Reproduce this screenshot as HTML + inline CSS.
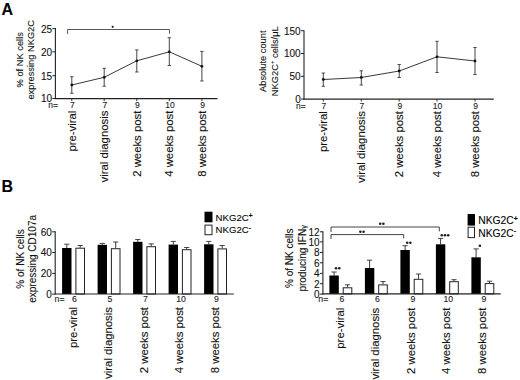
<!DOCTYPE html>
<html><head><meta charset="utf-8"><title>Figure</title>
<style>
html,body{margin:0;padding:0;background:#fff;}
svg{display:block;font-family:'Liberation Sans', Arial, Helvetica, sans-serif;}
text{stroke:#111;stroke-width:0.1px;}
</style></head>
<body>
<svg width="520" height="380" viewBox="0 0 520 380">
<rect x="0" y="0" width="520" height="380" fill="#ffffff"/>
<text x="1.50" y="14.60" font-size="16" text-anchor="start" font-weight="bold" fill="#000">A</text>
<text x="1.60" y="192.40" font-size="16" text-anchor="start" font-weight="bold" fill="#000">B</text>
<line x1="55.40" y1="28.10" x2="55.40" y2="99.10" stroke="#222" stroke-width="1.1"/>
<line x1="54.90" y1="98.60" x2="217.50" y2="98.60" stroke="#222" stroke-width="1.1"/>
<line x1="52.40" y1="28.60" x2="55.40" y2="28.60" stroke="#222" stroke-width="1"/>
<text x="52.10" y="32.50" font-size="10" text-anchor="end" font-weight="normal" fill="#111">25</text>
<line x1="52.40" y1="51.90" x2="55.40" y2="51.90" stroke="#222" stroke-width="1"/>
<text x="52.10" y="55.80" font-size="10" text-anchor="end" font-weight="normal" fill="#111">20</text>
<line x1="52.40" y1="75.70" x2="55.40" y2="75.70" stroke="#222" stroke-width="1"/>
<text x="52.10" y="79.60" font-size="10" text-anchor="end" font-weight="normal" fill="#111">15</text>
<line x1="52.40" y1="98.50" x2="55.40" y2="98.50" stroke="#222" stroke-width="1"/>
<text x="52.10" y="102.40" font-size="10" text-anchor="end" font-weight="normal" fill="#111">10</text>
<polyline points="71.80,85.00 104.20,77.30 136.80,60.80 169.30,51.80 201.90,66.30" fill="none" stroke="#222" stroke-width="0.9"/>
<line x1="71.80" y1="76.70" x2="71.80" y2="93.30" stroke="#222" stroke-width="0.85"/>
<line x1="70.10" y1="76.70" x2="73.50" y2="76.70" stroke="#333" stroke-width="0.85"/>
<line x1="70.10" y1="93.30" x2="73.50" y2="93.30" stroke="#333" stroke-width="0.85"/>
<circle cx="71.80" cy="85.00" r="1.4" fill="#111"/>
<line x1="104.20" y1="68.30" x2="104.20" y2="86.20" stroke="#222" stroke-width="0.85"/>
<line x1="102.50" y1="68.30" x2="105.90" y2="68.30" stroke="#333" stroke-width="0.85"/>
<line x1="102.50" y1="86.20" x2="105.90" y2="86.20" stroke="#333" stroke-width="0.85"/>
<circle cx="104.20" cy="77.30" r="1.4" fill="#111"/>
<line x1="136.80" y1="49.90" x2="136.80" y2="72.00" stroke="#222" stroke-width="0.85"/>
<line x1="135.10" y1="49.90" x2="138.50" y2="49.90" stroke="#333" stroke-width="0.85"/>
<line x1="135.10" y1="72.00" x2="138.50" y2="72.00" stroke="#333" stroke-width="0.85"/>
<circle cx="136.80" cy="60.80" r="1.4" fill="#111"/>
<line x1="169.30" y1="37.70" x2="169.30" y2="65.50" stroke="#222" stroke-width="0.85"/>
<line x1="167.60" y1="37.70" x2="171.00" y2="37.70" stroke="#333" stroke-width="0.85"/>
<line x1="167.60" y1="65.50" x2="171.00" y2="65.50" stroke="#333" stroke-width="0.85"/>
<circle cx="169.30" cy="51.80" r="1.4" fill="#111"/>
<line x1="201.90" y1="51.40" x2="201.90" y2="81.00" stroke="#222" stroke-width="0.85"/>
<line x1="200.20" y1="51.40" x2="203.60" y2="51.40" stroke="#333" stroke-width="0.85"/>
<line x1="200.20" y1="81.00" x2="203.60" y2="81.00" stroke="#333" stroke-width="0.85"/>
<circle cx="201.90" cy="66.30" r="1.4" fill="#111"/>
<line x1="71.80" y1="98.60" x2="71.80" y2="101.10" stroke="#222" stroke-width="0.9"/>
<text x="72.40" y="108.20" font-size="8.5" text-anchor="middle" font-weight="normal" fill="#222">7</text>
<text x="75.70" y="110.60" font-size="11.35" text-anchor="end" font-weight="normal" fill="#111" transform="rotate(-90 75.70 110.60)">pre-viral</text>
<line x1="104.20" y1="98.60" x2="104.20" y2="101.10" stroke="#222" stroke-width="0.9"/>
<text x="104.80" y="108.20" font-size="8.5" text-anchor="middle" font-weight="normal" fill="#222">7</text>
<text x="108.10" y="110.60" font-size="11.35" text-anchor="end" font-weight="normal" fill="#111" transform="rotate(-90 108.10 110.60)">viral diagnosis</text>
<line x1="136.80" y1="98.60" x2="136.80" y2="101.10" stroke="#222" stroke-width="0.9"/>
<text x="137.40" y="108.20" font-size="8.5" text-anchor="middle" font-weight="normal" fill="#222">9</text>
<text x="140.70" y="110.60" font-size="11.35" text-anchor="end" font-weight="normal" fill="#111" transform="rotate(-90 140.70 110.60)">2 weeks post</text>
<line x1="169.30" y1="98.60" x2="169.30" y2="101.10" stroke="#222" stroke-width="0.9"/>
<text x="169.90" y="108.20" font-size="8.5" text-anchor="middle" font-weight="normal" fill="#222">10</text>
<text x="173.20" y="110.60" font-size="11.35" text-anchor="end" font-weight="normal" fill="#111" transform="rotate(-90 173.20 110.60)">4 weeks post</text>
<line x1="201.90" y1="98.60" x2="201.90" y2="101.10" stroke="#222" stroke-width="0.9"/>
<text x="202.50" y="108.20" font-size="8.5" text-anchor="middle" font-weight="normal" fill="#222">9</text>
<text x="205.80" y="110.60" font-size="11.35" text-anchor="end" font-weight="normal" fill="#111" transform="rotate(-90 205.80 110.60)">8 weeks post</text>
<text x="48.20" y="108.20" font-size="8.5" text-anchor="start" font-weight="normal" fill="#222">n=</text>
<text x="23.20" y="59.80" font-size="9.3" text-anchor="middle" font-weight="normal" fill="#111" transform="rotate(-90 23.20 59.80)">% of NK cells</text>
<text x="34.40" y="59.80" font-size="9.3" text-anchor="middle" font-weight="normal" fill="#111" transform="rotate(-90 34.40 59.80)">expressing NKG2C</text>
<polyline points="67.6,34 67.6,29.5 169.5,29.5 169.5,33.6" fill="none" stroke="#444" stroke-width="0.9"/>
<circle cx="112.7" cy="26.8" r="1.1" fill="#222"/>
<line x1="304.00" y1="30.20" x2="304.00" y2="99.60" stroke="#222" stroke-width="1.1"/>
<line x1="303.50" y1="99.10" x2="493.80" y2="99.10" stroke="#222" stroke-width="1.1"/>
<line x1="301.00" y1="30.70" x2="304.00" y2="30.70" stroke="#222" stroke-width="1"/>
<text x="300.70" y="34.60" font-size="10" text-anchor="end" font-weight="normal" fill="#111">150</text>
<line x1="301.00" y1="53.50" x2="304.00" y2="53.50" stroke="#222" stroke-width="1"/>
<text x="300.70" y="57.40" font-size="10" text-anchor="end" font-weight="normal" fill="#111">100</text>
<line x1="301.00" y1="76.30" x2="304.00" y2="76.30" stroke="#222" stroke-width="1"/>
<text x="300.70" y="80.20" font-size="10" text-anchor="end" font-weight="normal" fill="#111">50</text>
<line x1="301.00" y1="99.10" x2="304.00" y2="99.10" stroke="#222" stroke-width="1"/>
<text x="300.70" y="103.00" font-size="10" text-anchor="end" font-weight="normal" fill="#111">0</text>
<polyline points="323.30,79.50 361.30,77.50 399.20,71.00 437.00,56.80 475.00,61.00" fill="none" stroke="#222" stroke-width="0.9"/>
<line x1="323.30" y1="73.00" x2="323.30" y2="86.30" stroke="#222" stroke-width="0.85"/>
<line x1="321.60" y1="73.00" x2="325.00" y2="73.00" stroke="#333" stroke-width="0.85"/>
<line x1="321.60" y1="86.30" x2="325.00" y2="86.30" stroke="#333" stroke-width="0.85"/>
<circle cx="323.30" cy="79.50" r="1.4" fill="#111"/>
<line x1="361.30" y1="70.80" x2="361.30" y2="85.00" stroke="#222" stroke-width="0.85"/>
<line x1="359.60" y1="70.80" x2="363.00" y2="70.80" stroke="#333" stroke-width="0.85"/>
<line x1="359.60" y1="85.00" x2="363.00" y2="85.00" stroke="#333" stroke-width="0.85"/>
<circle cx="361.30" cy="77.50" r="1.4" fill="#111"/>
<line x1="399.20" y1="64.50" x2="399.20" y2="77.50" stroke="#222" stroke-width="0.85"/>
<line x1="397.50" y1="64.50" x2="400.90" y2="64.50" stroke="#333" stroke-width="0.85"/>
<line x1="397.50" y1="77.50" x2="400.90" y2="77.50" stroke="#333" stroke-width="0.85"/>
<circle cx="399.20" cy="71.00" r="1.4" fill="#111"/>
<line x1="437.00" y1="41.30" x2="437.00" y2="72.50" stroke="#222" stroke-width="0.85"/>
<line x1="435.30" y1="41.30" x2="438.70" y2="41.30" stroke="#333" stroke-width="0.85"/>
<line x1="435.30" y1="72.50" x2="438.70" y2="72.50" stroke="#333" stroke-width="0.85"/>
<circle cx="437.00" cy="56.80" r="1.4" fill="#111"/>
<line x1="475.00" y1="47.50" x2="475.00" y2="74.50" stroke="#222" stroke-width="0.85"/>
<line x1="473.30" y1="47.50" x2="476.70" y2="47.50" stroke="#333" stroke-width="0.85"/>
<line x1="473.30" y1="74.50" x2="476.70" y2="74.50" stroke="#333" stroke-width="0.85"/>
<circle cx="475.00" cy="61.00" r="1.4" fill="#111"/>
<line x1="323.30" y1="99.10" x2="323.30" y2="101.60" stroke="#222" stroke-width="0.9"/>
<text x="323.90" y="108.70" font-size="8.5" text-anchor="middle" font-weight="normal" fill="#222">7</text>
<text x="327.20" y="111.10" font-size="11.35" text-anchor="end" font-weight="normal" fill="#111" transform="rotate(-90 327.20 111.10)">pre-viral</text>
<line x1="361.30" y1="99.10" x2="361.30" y2="101.60" stroke="#222" stroke-width="0.9"/>
<text x="361.90" y="108.70" font-size="8.5" text-anchor="middle" font-weight="normal" fill="#222">7</text>
<text x="365.20" y="111.10" font-size="11.35" text-anchor="end" font-weight="normal" fill="#111" transform="rotate(-90 365.20 111.10)">viral diagnosis</text>
<line x1="399.20" y1="99.10" x2="399.20" y2="101.60" stroke="#222" stroke-width="0.9"/>
<text x="399.80" y="108.70" font-size="8.5" text-anchor="middle" font-weight="normal" fill="#222">9</text>
<text x="403.10" y="111.10" font-size="11.35" text-anchor="end" font-weight="normal" fill="#111" transform="rotate(-90 403.10 111.10)">2 weeks post</text>
<line x1="437.00" y1="99.10" x2="437.00" y2="101.60" stroke="#222" stroke-width="0.9"/>
<text x="437.60" y="108.70" font-size="8.5" text-anchor="middle" font-weight="normal" fill="#222">10</text>
<text x="440.90" y="111.10" font-size="11.35" text-anchor="end" font-weight="normal" fill="#111" transform="rotate(-90 440.90 111.10)">4 weeks post</text>
<line x1="475.00" y1="99.10" x2="475.00" y2="101.60" stroke="#222" stroke-width="0.9"/>
<text x="475.60" y="108.70" font-size="8.5" text-anchor="middle" font-weight="normal" fill="#222">9</text>
<text x="478.90" y="111.10" font-size="11.35" text-anchor="end" font-weight="normal" fill="#111" transform="rotate(-90 478.90 111.10)">8 weeks post</text>
<text x="296.00" y="108.70" font-size="8.5" text-anchor="start" font-weight="normal" fill="#222">n=</text>
<text x="266.00" y="61.20" font-size="9.3" text-anchor="middle" font-weight="normal" fill="#111" transform="rotate(-90 266.00 61.20)">Absolute count</text>
<text x="278.20" y="61.20" font-size="9.3" text-anchor="middle" font-weight="normal" fill="#111" transform="rotate(-90 278.20 61.20)">NKG2C<tspan font-size="6" dy="-4.3">+</tspan><tspan dy="4.3"> cells/&#956;L</tspan></text>
<line x1="66.80" y1="244.20" x2="66.80" y2="248.00" stroke="#222" stroke-width="0.9"/>
<line x1="64.20" y1="244.20" x2="69.40" y2="244.20" stroke="#333" stroke-width="0.9"/>
<rect x="62.10" y="248.00" width="9.4" height="46.00" fill="#000"/>
<line x1="80.20" y1="245.50" x2="80.20" y2="247.70" stroke="#222" stroke-width="0.9"/>
<line x1="77.60" y1="245.50" x2="82.80" y2="245.50" stroke="#333" stroke-width="0.9"/>
<rect x="75.90" y="248.20" width="8.6" height="45.80" fill="#fff" stroke="#222" stroke-width="1"/>
<text x="74.50" y="302.00" font-size="8.7" text-anchor="middle" font-weight="normal" fill="#222">6</text>
<text x="76.90" y="307.00" font-size="11.35" text-anchor="end" font-weight="normal" fill="#111" transform="rotate(-90 76.90 307.00)">pre-viral</text>
<line x1="102.30" y1="243.40" x2="102.30" y2="244.80" stroke="#222" stroke-width="0.9"/>
<line x1="99.70" y1="243.40" x2="104.90" y2="243.40" stroke="#333" stroke-width="0.9"/>
<rect x="97.60" y="244.80" width="9.4" height="49.20" fill="#000"/>
<line x1="115.70" y1="242.00" x2="115.70" y2="248.20" stroke="#222" stroke-width="0.9"/>
<line x1="113.10" y1="242.00" x2="118.30" y2="242.00" stroke="#333" stroke-width="0.9"/>
<rect x="111.40" y="248.70" width="8.6" height="45.30" fill="#fff" stroke="#222" stroke-width="1"/>
<text x="110.00" y="302.00" font-size="8.7" text-anchor="middle" font-weight="normal" fill="#222">5</text>
<text x="112.40" y="307.00" font-size="11.35" text-anchor="end" font-weight="normal" fill="#111" transform="rotate(-90 112.40 307.00)">viral diagnosis</text>
<line x1="137.80" y1="239.50" x2="137.80" y2="241.80" stroke="#222" stroke-width="0.9"/>
<line x1="135.20" y1="239.50" x2="140.40" y2="239.50" stroke="#333" stroke-width="0.9"/>
<rect x="133.10" y="241.80" width="9.4" height="52.20" fill="#000"/>
<line x1="151.20" y1="243.90" x2="151.20" y2="246.20" stroke="#222" stroke-width="0.9"/>
<line x1="148.60" y1="243.90" x2="153.80" y2="243.90" stroke="#333" stroke-width="0.9"/>
<rect x="146.90" y="246.70" width="8.6" height="47.30" fill="#fff" stroke="#222" stroke-width="1"/>
<text x="145.50" y="302.00" font-size="8.7" text-anchor="middle" font-weight="normal" fill="#222">7</text>
<text x="147.90" y="307.00" font-size="11.35" text-anchor="end" font-weight="normal" fill="#111" transform="rotate(-90 147.90 307.00)">2 weeks post</text>
<line x1="173.30" y1="241.40" x2="173.30" y2="244.60" stroke="#222" stroke-width="0.9"/>
<line x1="170.70" y1="241.40" x2="175.90" y2="241.40" stroke="#333" stroke-width="0.9"/>
<rect x="168.60" y="244.60" width="9.4" height="49.40" fill="#000"/>
<line x1="186.70" y1="247.50" x2="186.70" y2="249.20" stroke="#222" stroke-width="0.9"/>
<line x1="184.10" y1="247.50" x2="189.30" y2="247.50" stroke="#333" stroke-width="0.9"/>
<rect x="182.40" y="249.70" width="8.6" height="44.30" fill="#fff" stroke="#222" stroke-width="1"/>
<text x="181.00" y="302.00" font-size="8.7" text-anchor="middle" font-weight="normal" fill="#222">10</text>
<text x="183.40" y="307.00" font-size="11.35" text-anchor="end" font-weight="normal" fill="#111" transform="rotate(-90 183.40 307.00)">4 weeks post</text>
<line x1="208.80" y1="241.40" x2="208.80" y2="244.30" stroke="#222" stroke-width="0.9"/>
<line x1="206.20" y1="241.40" x2="211.40" y2="241.40" stroke="#333" stroke-width="0.9"/>
<rect x="204.10" y="244.30" width="9.4" height="49.70" fill="#000"/>
<line x1="222.20" y1="245.50" x2="222.20" y2="248.40" stroke="#222" stroke-width="0.9"/>
<line x1="219.60" y1="245.50" x2="224.80" y2="245.50" stroke="#333" stroke-width="0.9"/>
<rect x="217.90" y="248.90" width="8.6" height="45.10" fill="#fff" stroke="#222" stroke-width="1"/>
<text x="216.50" y="302.00" font-size="8.7" text-anchor="middle" font-weight="normal" fill="#222">9</text>
<text x="218.90" y="307.00" font-size="11.35" text-anchor="end" font-weight="normal" fill="#111" transform="rotate(-90 218.90 307.00)">8 weeks post</text>
<line x1="55.20" y1="231.30" x2="55.20" y2="294.50" stroke="#222" stroke-width="1.1"/>
<line x1="54.70" y1="294.00" x2="233.80" y2="294.00" stroke="#222" stroke-width="1.1"/>
<line x1="52.20" y1="231.80" x2="55.20" y2="231.80" stroke="#222" stroke-width="1"/>
<text x="51.90" y="235.70" font-size="10" text-anchor="end" font-weight="normal" fill="#111">60</text>
<line x1="52.20" y1="252.50" x2="55.20" y2="252.50" stroke="#222" stroke-width="1"/>
<text x="51.90" y="256.40" font-size="10" text-anchor="end" font-weight="normal" fill="#111">40</text>
<line x1="52.20" y1="273.40" x2="55.20" y2="273.40" stroke="#222" stroke-width="1"/>
<text x="51.90" y="277.30" font-size="10" text-anchor="end" font-weight="normal" fill="#111">20</text>
<line x1="52.20" y1="294.10" x2="55.20" y2="294.10" stroke="#222" stroke-width="1"/>
<text x="51.90" y="298.00" font-size="10" text-anchor="end" font-weight="normal" fill="#111">0</text>
<text x="54.60" y="302.00" font-size="8.7" text-anchor="start" font-weight="normal" fill="#222">n=</text>
<text x="23.90" y="258.90" font-size="10" text-anchor="middle" font-weight="normal" fill="#111" transform="rotate(-90 23.90 258.90)">% of NK cells</text>
<text x="36.00" y="258.90" font-size="10" text-anchor="middle" font-weight="normal" fill="#111" transform="rotate(-90 36.00 258.90)">expressing CD107a</text>
<rect x="204.5" y="211.7" width="8" height="10.6" fill="#000"/>
<rect x="205" y="225.1" width="7" height="9.6" fill="#fff" stroke="#222" stroke-width="1"/>
<text x="215.60" y="221.20" font-size="9.6" text-anchor="start" font-weight="normal" fill="#000">NKG2C<tspan font-size="6.5" font-weight="bold" dy="-2.8">+</tspan></text>
<text x="215.60" y="233.10" font-size="9.6" text-anchor="start" font-weight="normal" fill="#000">NKG2C<tspan font-size="6.5" font-weight="bold" dy="-3.6">-</tspan></text>
<line x1="334.10" y1="272.00" x2="334.10" y2="275.50" stroke="#222" stroke-width="0.9"/>
<line x1="331.50" y1="272.00" x2="336.70" y2="272.00" stroke="#333" stroke-width="0.9"/>
<rect x="329.40" y="275.50" width="9.4" height="18.40" fill="#000"/>
<line x1="347.50" y1="284.80" x2="347.50" y2="287.30" stroke="#222" stroke-width="0.9"/>
<line x1="344.90" y1="284.80" x2="350.10" y2="284.80" stroke="#333" stroke-width="0.9"/>
<rect x="343.20" y="287.80" width="8.6" height="6.10" fill="#fff" stroke="#222" stroke-width="1"/>
<text x="341.80" y="301.90" font-size="8.7" text-anchor="middle" font-weight="normal" fill="#222">6</text>
<text x="344.00" y="307.70" font-size="11.35" text-anchor="end" font-weight="normal" fill="#111" transform="rotate(-90 344.00 307.70)">pre-viral</text>
<line x1="369.60" y1="260.20" x2="369.60" y2="268.00" stroke="#222" stroke-width="0.9"/>
<line x1="367.00" y1="260.20" x2="372.20" y2="260.20" stroke="#333" stroke-width="0.9"/>
<rect x="364.90" y="268.00" width="9.4" height="25.90" fill="#000"/>
<line x1="383.00" y1="281.60" x2="383.00" y2="284.40" stroke="#222" stroke-width="0.9"/>
<line x1="380.40" y1="281.60" x2="385.60" y2="281.60" stroke="#333" stroke-width="0.9"/>
<rect x="378.70" y="284.90" width="8.6" height="9.00" fill="#fff" stroke="#222" stroke-width="1"/>
<text x="377.30" y="301.90" font-size="8.7" text-anchor="middle" font-weight="normal" fill="#222">6</text>
<text x="379.50" y="307.70" font-size="11.35" text-anchor="end" font-weight="normal" fill="#111" transform="rotate(-90 379.50 307.70)">viral diagnosis</text>
<line x1="405.10" y1="245.70" x2="405.10" y2="250.00" stroke="#222" stroke-width="0.9"/>
<line x1="402.50" y1="245.70" x2="407.70" y2="245.70" stroke="#333" stroke-width="0.9"/>
<rect x="400.40" y="250.00" width="9.4" height="43.90" fill="#000"/>
<line x1="418.50" y1="274.00" x2="418.50" y2="278.80" stroke="#222" stroke-width="0.9"/>
<line x1="415.90" y1="274.00" x2="421.10" y2="274.00" stroke="#333" stroke-width="0.9"/>
<rect x="414.20" y="279.30" width="8.6" height="14.60" fill="#fff" stroke="#222" stroke-width="1"/>
<text x="412.80" y="301.90" font-size="8.7" text-anchor="middle" font-weight="normal" fill="#222">9</text>
<text x="415.00" y="307.70" font-size="11.35" text-anchor="end" font-weight="normal" fill="#111" transform="rotate(-90 415.00 307.70)">2 weeks post</text>
<line x1="440.60" y1="238.40" x2="440.60" y2="244.30" stroke="#222" stroke-width="0.9"/>
<line x1="438.00" y1="238.40" x2="443.20" y2="238.40" stroke="#333" stroke-width="0.9"/>
<rect x="435.90" y="244.30" width="9.4" height="49.60" fill="#000"/>
<line x1="454.00" y1="279.70" x2="454.00" y2="281.20" stroke="#222" stroke-width="0.9"/>
<line x1="451.40" y1="279.70" x2="456.60" y2="279.70" stroke="#333" stroke-width="0.9"/>
<rect x="449.70" y="281.70" width="8.6" height="12.20" fill="#fff" stroke="#222" stroke-width="1"/>
<text x="448.30" y="301.90" font-size="8.7" text-anchor="middle" font-weight="normal" fill="#222">10</text>
<text x="450.50" y="307.70" font-size="11.35" text-anchor="end" font-weight="normal" fill="#111" transform="rotate(-90 450.50 307.70)">4 weeks post</text>
<line x1="476.10" y1="248.90" x2="476.10" y2="257.30" stroke="#222" stroke-width="0.9"/>
<line x1="473.50" y1="248.90" x2="478.70" y2="248.90" stroke="#333" stroke-width="0.9"/>
<rect x="471.40" y="257.30" width="9.4" height="36.60" fill="#000"/>
<line x1="489.50" y1="281.20" x2="489.50" y2="283.10" stroke="#222" stroke-width="0.9"/>
<line x1="486.90" y1="281.20" x2="492.10" y2="281.20" stroke="#333" stroke-width="0.9"/>
<rect x="485.20" y="283.60" width="8.6" height="10.30" fill="#fff" stroke="#222" stroke-width="1"/>
<text x="483.80" y="301.90" font-size="8.7" text-anchor="middle" font-weight="normal" fill="#222">9</text>
<text x="486.00" y="307.70" font-size="11.35" text-anchor="end" font-weight="normal" fill="#111" transform="rotate(-90 486.00 307.70)">8 weeks post</text>
<line x1="322.90" y1="231.30" x2="322.90" y2="294.40" stroke="#222" stroke-width="1.1"/>
<line x1="322.40" y1="293.90" x2="500.70" y2="293.90" stroke="#222" stroke-width="1.1"/>
<line x1="319.90" y1="231.80" x2="322.90" y2="231.80" stroke="#222" stroke-width="1"/>
<text x="319.60" y="235.70" font-size="10" text-anchor="end" font-weight="normal" fill="#111">12</text>
<line x1="319.90" y1="241.90" x2="322.90" y2="241.90" stroke="#222" stroke-width="1"/>
<text x="319.60" y="245.80" font-size="10" text-anchor="end" font-weight="normal" fill="#111">10</text>
<line x1="319.90" y1="252.50" x2="322.90" y2="252.50" stroke="#222" stroke-width="1"/>
<text x="319.60" y="256.40" font-size="10" text-anchor="end" font-weight="normal" fill="#111">8</text>
<line x1="319.90" y1="262.80" x2="322.90" y2="262.80" stroke="#222" stroke-width="1"/>
<text x="319.60" y="266.70" font-size="10" text-anchor="end" font-weight="normal" fill="#111">6</text>
<line x1="319.90" y1="273.40" x2="322.90" y2="273.40" stroke="#222" stroke-width="1"/>
<text x="319.60" y="277.30" font-size="10" text-anchor="end" font-weight="normal" fill="#111">4</text>
<line x1="319.90" y1="283.70" x2="322.90" y2="283.70" stroke="#222" stroke-width="1"/>
<text x="319.60" y="287.60" font-size="10" text-anchor="end" font-weight="normal" fill="#111">2</text>
<line x1="319.90" y1="294.10" x2="322.90" y2="294.10" stroke="#222" stroke-width="1"/>
<text x="319.60" y="298.00" font-size="10" text-anchor="end" font-weight="normal" fill="#111">0</text>
<text x="318.30" y="301.90" font-size="8.7" text-anchor="start" font-weight="normal" fill="#222">n=</text>
<text x="293.50" y="258.30" font-size="10" text-anchor="middle" font-weight="normal" fill="#111" transform="rotate(-90 293.50 258.30)">% of NK cells</text>
<text x="306.50" y="258.30" font-size="10" text-anchor="middle" font-weight="normal" fill="#111" transform="rotate(-90 306.50 258.30)">producing IFN<tspan font-size="7.6">&#947;</tspan></text>
<polyline points="331,232 331,227 439.3,227 439.3,231.4" fill="none" stroke="#444" stroke-width="1"/>
<polyline points="331,239 331,234.6 403.7,234.6 403.7,238.4" fill="none" stroke="#444" stroke-width="1"/>
<circle cx="380.20" cy="223.80" r="1.3" fill="#222"/>
<circle cx="383.40" cy="223.80" r="1.3" fill="#222"/>
<circle cx="360.40" cy="231.80" r="1.3" fill="#222"/>
<circle cx="363.60" cy="231.80" r="1.3" fill="#222"/>
<circle cx="336.00" cy="268.30" r="1.3" fill="#222"/>
<circle cx="339.20" cy="268.30" r="1.3" fill="#222"/>
<circle cx="407.20" cy="242.80" r="1.3" fill="#222"/>
<circle cx="410.40" cy="242.80" r="1.3" fill="#222"/>
<circle cx="441.80" cy="235.30" r="1.3" fill="#222"/>
<circle cx="445.00" cy="235.30" r="1.3" fill="#222"/>
<circle cx="448.20" cy="235.30" r="1.3" fill="#222"/>
<circle cx="479.90" cy="245.80" r="1.3" fill="#222"/>
<rect x="467.6" y="214" width="7.4" height="11.6" fill="#000"/>
<rect x="468.1" y="227.2" width="6.4" height="10.4" fill="#fff" stroke="#222" stroke-width="1"/>
<text x="478.30" y="224.10" font-size="10.3" text-anchor="start" font-weight="normal" fill="#000">NKG2C<tspan font-size="7" font-weight="bold" dy="-3.4">+</tspan></text>
<text x="478.30" y="236.80" font-size="10.3" text-anchor="start" font-weight="normal" fill="#000">NKG2C<tspan font-size="7" font-weight="bold" dy="-3.8">-</tspan></text>
</svg>
</body></html>
